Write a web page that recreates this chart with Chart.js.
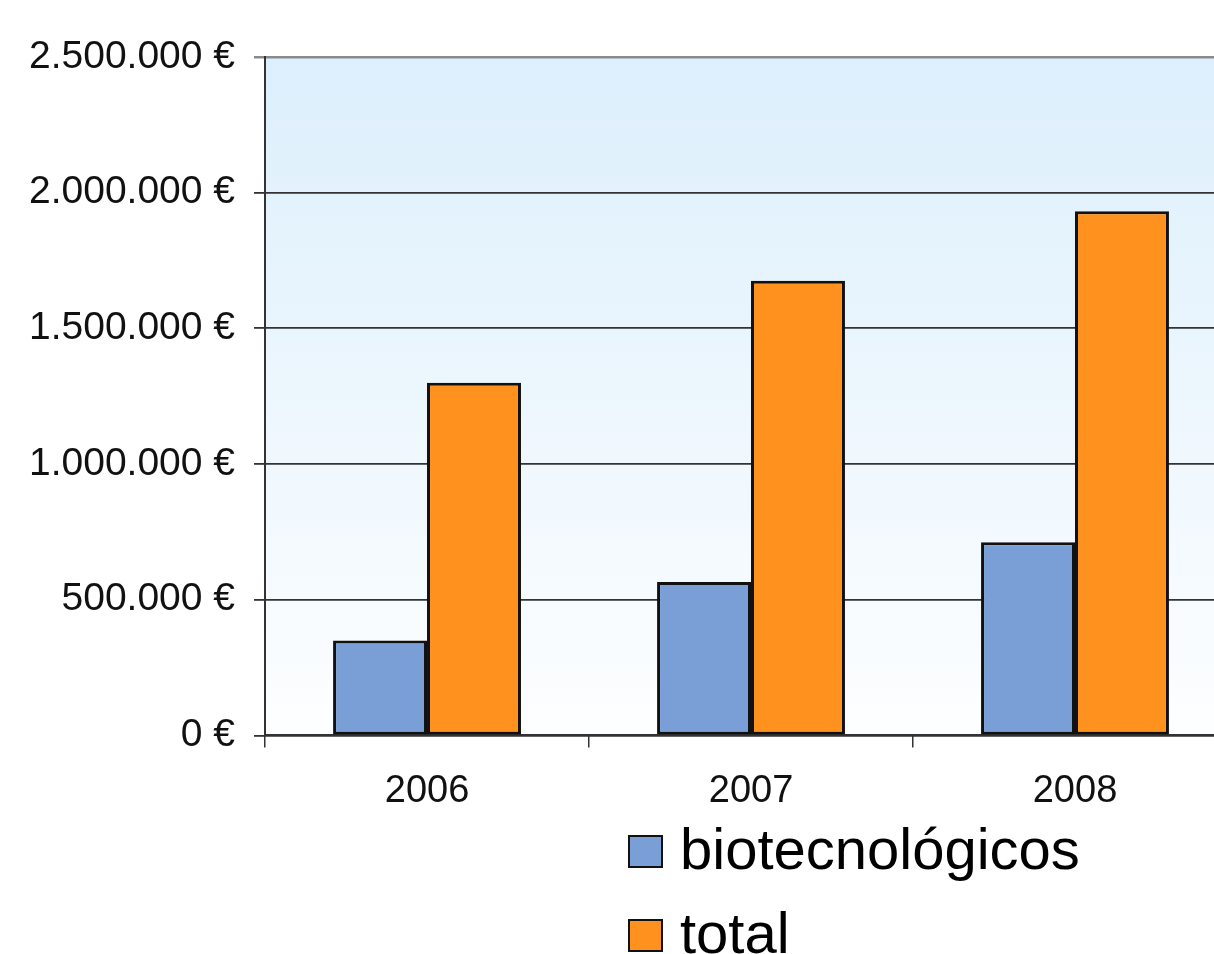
<!DOCTYPE html>
<html>
<head>
<meta charset="utf-8">
<script src="https://cdn.jsdelivr.net/npm/chart.js@4"></script>
<style>
  html, body { margin: 0; padding: 0; background: #fff; overflow: hidden; }
  #wrap { position: relative; width: 1250px; height: 954px; }
  #legend { position: absolute; left: 628px; top: 806px; font-family: "Liberation Sans", Arial, sans-serif; font-size: 58px; color: #000; }
  #legend .item { display: flex; align-items: center; height: 84px; }
  #legend .box { width: 31px; height: 29px; border: 2px solid #111; margin-right: 17px; margin-top: 6px; }
</style>
</head>
<body>
<div id="wrap">
  <canvas id="chart" width="1250" height="954"></canvas>
  <div id="legend"></div>
</div>
<script>
// data
const years = ['2006', '2007', '2008'];
const biotecnologicos = [350000, 565000, 712000];
const total = [1300000, 1675000, 1932000];
const seriesNames = ['biotecnológicos', 'total'];
const seriesColors = ['#7A9FD6', '#FF921E'];

function euro(v) {
  return String(v).replace(/\B(?=(\d{3})+(?!\d))/g, '.') + ' €';
}

// light blue to white fill behind the bars
const plotBackground = {
  id: 'plotBackground',
  beforeDraw(chart) {
    const a = chart.chartArea;
    const ctx = chart.ctx;
    const g = ctx.createLinearGradient(0, a.top, 0, a.bottom);
    g.addColorStop(0, '#DCEFFC');
    g.addColorStop(1, '#FDFEFF');
    ctx.save();
    ctx.fillStyle = g;
    ctx.fillRect(a.left, a.top, a.right - a.left, a.bottom - a.top);
    ctx.restore();
  }
};

const ctx = document.getElementById('chart').getContext('2d');
const chart = new Chart(ctx, {
  type: 'bar',
  data: {
    labels: years,
    datasets: [
      { label: seriesNames[0], data: biotecnologicos, backgroundColor: seriesColors[0] },
      { label: seriesNames[1], data: total, backgroundColor: seriesColors[1] }
    ]
  },
  options: {
    responsive: false,
    animation: false,
    layout: { padding: { left: 10, top: 57, right: 13, bottom: 119 } },
    datasets: {
      bar: { borderColor: '#111', borderWidth: 3, borderSkipped: false, barPercentage: 1, categoryPercentage: 0.58 }
    },
    plugins: { legend: { display: false }, tooltip: { enabled: false } },
    scales: {
      x: {
        grid: { display: true, drawOnChartArea: false, color: '#333', lineWidth: 1.5, tickLength: 12, offset: true },
        border: { color: '#333', width: 2 },
        ticks: { color: '#111', padding: 21, font: { family: 'Liberation Sans', size: 38 } }
      },
      y: {
        min: 0, max: 2500000,
        grid: {
          color: c => (c.tick && c.tick.value === 2500000 ? '#8a8a8a' : '#333'),
          lineWidth: c => (c.tick && c.tick.value === 2500000 ? 2.5 : 1.8),
          tickLength: 11
        },
        border: { color: '#333', width: 2 },
        ticks: { stepSize: 500000, color: '#111', padding: 19, font: { family: 'Liberation Sans', size: 39 }, callback: v => euro(v) }
      }
    }
  },
  plugins: [plotBackground]
});

// stacked legend under the axis
const legend = document.getElementById('legend');
chart.data.datasets.forEach(ds => {
  const item = document.createElement('div');
  item.className = 'item';
  const box = document.createElement('span');
  box.className = 'box';
  box.style.background = ds.backgroundColor;
  const txt = document.createElement('span');
  txt.textContent = ds.label;
  item.appendChild(box);
  item.appendChild(txt);
  legend.appendChild(item);
});
</script>
</body>
</html>
